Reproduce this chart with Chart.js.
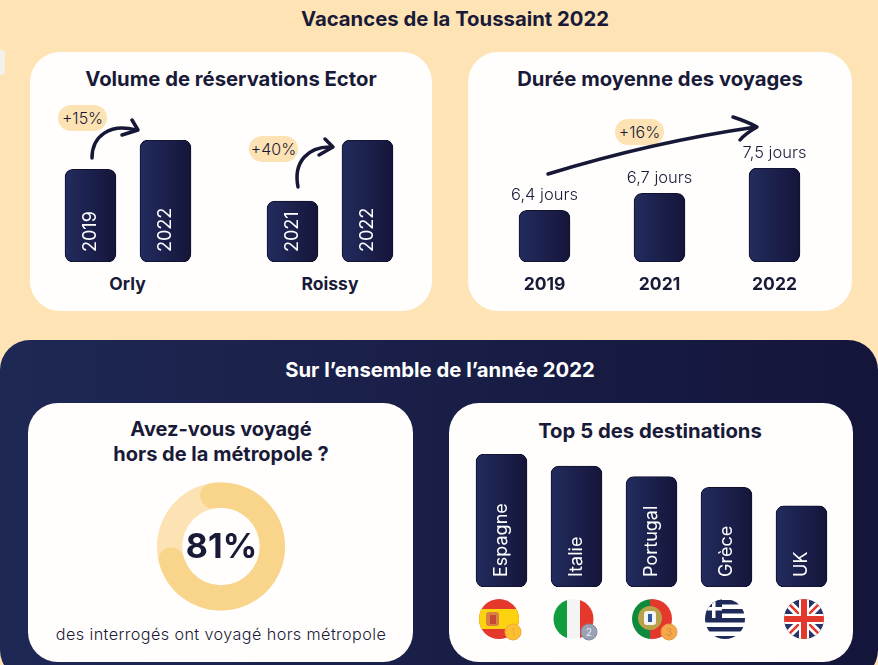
<!DOCTYPE html>
<html lang="fr">
<head>
<meta charset="utf-8">
<title>Vacances de la Toussaint 2022</title>
<script src="https://cdn.jsdelivr.net/npm/chart.js@4"></script>
<style>
html, body { margin: 0; padding: 0; }
body { width: 878px; height: 665px; overflow: hidden; position: relative; background: #fee3b4; font-family: Inter, sans-serif; color: #191a38; }
.bloc { position: absolute; }
.carte { background: #fffefd; border-radius: 30px; }
#sombre { left: 0; top: 340px; width: 878px; height: 340px; border-radius: 30px; background: linear-gradient(90deg, #1e2854, #14153a); }
#onglet { left: -6px; top: 50px; width: 11px; height: 25px; background: #f4f1ec; border-radius: 3px; }
canvas { position: absolute; }
.texte { position: absolute; transform: translate(-50%, -50%); white-space: nowrap; text-align: center; }
.titre { font-size: 20.3px; font-weight: 700; line-height: 25px; }
.sous { font-size: 17.5px; font-weight: 700; }
.pill { position: absolute; background: #fde2b4; border-radius: 13px; text-align: center; font-size: 16px; font-weight: 300; line-height: 26px; height: 26px; width: 49px; }
#dessins { position: absolute; left: 0; top: 0; }
</style>
</head>
<body>
<div class="bloc" id="onglet"></div>
<div class="bloc carte" style="left:30px;top:52px;width:402px;height:259px"></div>
<div class="bloc carte" style="left:468px;top:52px;width:384px;height:259px"></div>
<div class="bloc" id="sombre"></div>
<div class="bloc carte" style="left:28px;top:403px;width:385px;height:259px"></div>
<div class="bloc carte" style="left:449px;top:403px;width:404px;height:259px"></div>

<div class="texte titre" style="left:455px;top:18px">Vacances de la Toussaint 2022</div>
<div class="texte titre" style="left:231px;top:78px">Volume de réservations Ector</div>
<div class="texte titre" style="left:660px;top:78px">Durée moyenne des voyages</div>
<div class="texte titre" style="left:440px;top:369px;color:#fff">Sur l’ensemble de l’année 2022</div>
<div class="texte titre" style="left:221px;top:442px;font-size:20px">Avez-vous voyagé<br>hors de la métropole ?</div>
<div class="texte titre" style="left:650px;top:430px">Top 5 des destinations</div>
<div class="texte sous" style="left:127.5px;top:283px">Orly</div>
<div class="texte sous" style="left:330px;top:283px">Roissy</div>
<div class="texte" style="left:221px;top:634px;font-size:16.2px;font-weight:300;letter-spacing:.4px">des interrogés ont voyagé hors métropole</div>
<div class="pill" style="left:58px;top:105px">+15%</div>
<div class="pill" style="left:249px;top:136px">+40%</div>
<div class="pill" style="left:615px;top:119px">+16%</div>

<svg id="dessins" width="878" height="665" viewBox="0 0 878 665" fill="none">
  <defs>
    <clipPath id="c1"><circle cx="499" cy="619" r="20"/></clipPath>
    <clipPath id="c2"><circle cx="573.5" cy="619" r="20"/></clipPath>
    <clipPath id="c3"><circle cx="652" cy="619" r="20"/></clipPath>
    <clipPath id="c4"><circle cx="725" cy="619" r="20"/></clipPath>
    <clipPath id="c5"><circle cx="804" cy="619" r="20"/></clipPath>
  </defs>
  <g stroke="#171836" stroke-width="3.5" stroke-linecap="round" stroke-linejoin="round">
    <path d="M92 158 C92 136 110 123 136 130"/>
    <path d="M132 120 L138 130 L122 135"/>
    <path d="M298 187 C293 162 308 146 332 147"/>
    <path d="M325 139 L333 147 L319 155"/>
    <path d="M548 174 C610 155 680 138 756 127"/>
    <path d="M733 117 C742 120 750 123 757 127 C750 131 744 135 740 140"/>
  </g>
  <!-- Espagne -->
  <g clip-path="url(#c1)">
    <rect x="479" y="599" width="40" height="40" fill="#e4382d"/>
    <rect x="479" y="609" width="40" height="20" fill="#fdd20e"/>
    <rect x="486" y="612" width="13" height="14" rx="3" fill="#d9823f"/>
    <rect x="490" y="615" width="6" height="9" fill="#c5483a"/>
  </g>
  <circle cx="513" cy="632" r="8" fill="#fbbf2f" stroke="#f2a73d"/>
  <text x="513" y="636" font-size="10" text-anchor="middle" fill="#f2a73d" font-family="Inter">1</text>
  <!-- Italie -->
  <g clip-path="url(#c2)">
    <rect x="553" y="599" width="14" height="40" fill="#119c3e"/>
    <rect x="567" y="599" width="13" height="40" fill="#f4f4f4"/>
    <rect x="580" y="599" width="14" height="40" fill="#e4382d"/>
  </g>
  <circle cx="589" cy="632" r="8" fill="#9aa1b5" stroke="#838aa3"/>
  <text x="589" y="636" font-size="10" text-anchor="middle" fill="#eef0f5" font-family="Inter">2</text>
  <!-- Portugal -->
  <g clip-path="url(#c3)">
    <rect x="632" y="599" width="18" height="40" fill="#0f8a3c"/>
    <rect x="650" y="599" width="22" height="40" fill="#e4382d"/>
    <circle cx="650" cy="618" r="12" fill="#b7a24a"/>
    <rect x="644" y="611" width="12" height="14" rx="3" fill="#f4f4f4"/>
    <rect x="648" y="614" width="4" height="8" fill="#2d5aa0"/>
  </g>
  <circle cx="669" cy="632" r="8" fill="#f3a84c" stroke="#ec9a3c"/>
  <text x="669" y="636" font-size="10" text-anchor="middle" fill="#e08a2e" font-family="Inter">3</text>
  <!-- Grèce -->
  <g clip-path="url(#c4)">
    <rect x="705" y="599" width="40" height="40" fill="#fff"/>
    <rect x="705" y="600" width="40" height="4.5" fill="#1f2a58"/>
    <rect x="705" y="609" width="40" height="4.5" fill="#1f2a58"/>
    <rect x="705" y="618" width="40" height="4.5" fill="#1f2a58"/>
    <rect x="705" y="627" width="40" height="4.5" fill="#1f2a58"/>
    <rect x="705" y="636" width="40" height="4.5" fill="#1f2a58"/>
    <rect x="705" y="599" width="17" height="19" fill="#1f2a58"/>
    <rect x="712" y="599" width="3.5" height="19" fill="#fff"/>
    <rect x="705" y="607" width="17" height="3.5" fill="#fff"/>
  </g>
  <!-- Royaume-Uni -->
  <g clip-path="url(#c5)">
    <rect x="784" y="599" width="40" height="40" fill="#2a3467"/>
    <path d="M784 599 L824 639 M824 599 L784 639" stroke="#fff" stroke-width="8"/>
    <path d="M784 599 L824 639 M824 599 L784 639" stroke="#e4382d" stroke-width="2.5"/>
    <path d="M804 599 V639 M784 619 H824" stroke="#fff" stroke-width="10"/>
    <path d="M804 599 V639 M784 619 H824" stroke="#e4382d" stroke-width="6"/>
  </g>
</svg>

<script>
// valeurs (barre la plus haute de chaque graphique = 100)
const orlyAnnees = ['2019', '2022'];
const orlyVolumes = [76, 100];
const roissyAnnees = ['2021', '2022'];
const roissyVolumes = [50, 100];
const dureeAnnees = ['2019', '2021', '2022'];
const dureeHauteurs = [55, 73, 100];
const dureeTextes = ['6,4 jours', '6,7 jours', '7,5 jours'];
const destinations = ['Espagne', 'Italie', 'Portugal', 'Grèce', 'UK'];
const destinationsVolumes = [100, 91, 83, 75, 61];
const voyageHorsMetropole = [81, 19];

const encre = '#191a38';

function nouveauCanvas(gauche, haut, largeur, hauteur) {
    let cvs = document.createElement('canvas');
    cvs.width = largeur;
    cvs.height = hauteur;
    cvs.style.left = gauche + 'px';
    cvs.style.top = haut + 'px';
    cvs.style.width = largeur + 'px';
    cvs.style.height = hauteur + 'px';
    document.body.insertBefore(cvs, document.getElementById('dessins'));
    return cvs;
}

function degrade(c) {
    if (c.dataIndex === undefined || !c.chart.scales.x) return '#1d2550';
    let x = c.chart.scales.x.getPixelForValue(c.dataIndex);
    if (!isFinite(x)) return '#1d2550';
    let g = c.chart.ctx.createLinearGradient(x - 25, 0, x + 25, 0);
    g.addColorStop(0, '#222c5e');
    g.addColorStop(1, '#15153a');
    return g;
}

// texte blanc vertical dans les barres
const texteVertical = {
    id: 'texteVertical',
    afterDatasetsDraw(chart) {
        let ctx = chart.ctx;
        chart.getDatasetMeta(0).data.forEach(function (barre, i) {
            ctx.save();
            ctx.translate(barre.x, barre.base - 10);
            ctx.rotate(-Math.PI / 2);
            ctx.font = '400 18px Inter';
            ctx.fillStyle = '#fff';
            ctx.textAlign = 'left';
            ctx.textBaseline = 'middle';
            ctx.fillText(chart.data.labels[i], 0, 0);
            ctx.restore();
        });
    }
};

// durée affichée au-dessus des barres
const texteDessus = {
    id: 'texteDessus',
    afterDatasetsDraw(chart) {
        let ctx = chart.ctx;
        chart.getDatasetMeta(0).data.forEach(function (barre, i) {
            ctx.save();
            ctx.font = '300 16.5px Inter';
            ctx.fillStyle = encre;
            ctx.textAlign = 'center';
            ctx.textBaseline = 'alphabetic';
            ctx.fillText(dureeTextes[i], barre.x, barre.y - 10);
            ctx.restore();
        });
    }
};

function grapheBarres(cvs, labels, valeurs, axeX, padding, extra) {
    return new Chart(cvs, {
        type: 'bar',
        data: {
            labels: labels,
            datasets: [{
                data: valeurs,
                barThickness: 51,
                backgroundColor: degrade,
                borderColor: '#11112e',
                borderWidth: 1,
                borderRadius: 8,
                borderSkipped: false
            }]
        },
        options: {
            responsive: false,
            animation: false,
            devicePixelRatio: 1,
            layout: { padding: padding },
            plugins: { legend: { display: false }, tooltip: { enabled: false } },
            scales: {
                x: axeX,
                y: { display: false, min: 0, max: 100 }
            }
        },
        plugins: [extra]
    });
}

const sansAxe = { display: false };
const axeAnnees = {
    grid: { display: false },
    border: { display: false },
    ticks: { color: encre, padding: 4, font: { family: 'Inter', size: 17.5, weight: '700' } },
    afterFit: function (s) { s.height = 38; }
};

grapheBarres(nouveauCanvas(53, 138, 150, 126), orlyAnnees, orlyVolumes, sansAxe, { top: 2, bottom: 2 }, texteVertical);
grapheBarres(nouveauCanvas(255, 138, 150, 126), roissyAnnees, roissyVolumes, sansAxe, { top: 2, bottom: 2 }, texteVertical);
grapheBarres(nouveauCanvas(487, 140, 345, 160), dureeAnnees, dureeHauteurs, axeAnnees, { top: 28 }, texteDessus);
grapheBarres(nouveauCanvas(464, 452, 375, 137), destinations, destinationsVolumes, sansAxe, { top: 2, bottom: 2 }, texteVertical);

// anneau clair complet sous l'arc, puis pourcentage au centre
const anneau = {
    id: 'anneau',
    beforeDatasetsDraw(chart) {
        let arc = chart.getDatasetMeta(0).data[0];
        let ctx = chart.ctx;
        ctx.save();
        ctx.beginPath();
        ctx.arc(arc.x, arc.y, arc.outerRadius, 0, Math.PI * 2);
        ctx.arc(arc.x, arc.y, arc.innerRadius, 0, Math.PI * 2, true);
        ctx.fillStyle = '#fde2b4';
        ctx.fill();
        ctx.restore();
    },
    afterDatasetsDraw(chart) {
        let arc = chart.getDatasetMeta(0).data[0];
        let ctx = chart.ctx;
        ctx.save();
        ctx.font = '700 34px Inter';
        ctx.fillStyle = encre;
        ctx.textAlign = 'center';
        ctx.textBaseline = 'middle';
        ctx.fillText(voyageHorsMetropole[0] + '%', arc.x + 0.5, arc.y + 1);
        ctx.restore();
    }
};

new Chart(nouveauCanvas(155, 480, 132, 133), {
    type: 'doughnut',
    data: {
        labels: ['Oui', 'Non'],
        datasets: [{
            data: voyageHorsMetropole,
            backgroundColor: ['#f9d48b', 'rgba(0,0,0,0)'],
            borderWidth: 0,
            borderRadius: [12, 0]
        }]
    },
    options: {
        responsive: false,
        animation: false,
        devicePixelRatio: 1,
        radius: 64,
        cutout: 40,
        rotation: -23,
        plugins: { legend: { display: false }, tooltip: { enabled: false } }
    },
    plugins: [anneau]
});
</script>
</body>
</html>
